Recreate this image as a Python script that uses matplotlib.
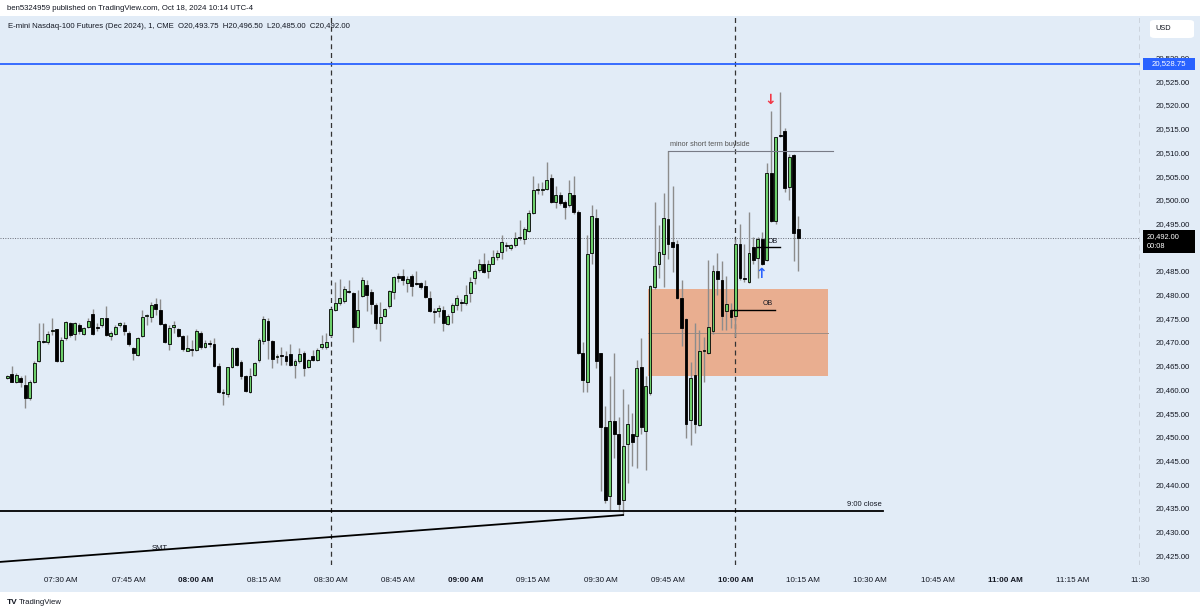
import matplotlib.pyplot as plt
from matplotlib.patches import Rectangle, FancyBboxPatch

plt.rcParams['font.family'] = ['Liberation Sans', 'DejaVu Sans']

# 1-minute bars from 07:18 to 10:14
opens = [20462.5, 20463.25, 20461.5, 20462.5, 20461.0, 20458.25, 20461.5, 20466.0, 20470.25, 20470.0,
         20472.25, 20472.75, 20466.0, 20470.75, 20474.0, 20471.75, 20473.5, 20471.75, 20473.25, 20476.0,
         20473.25, 20473.5, 20475.0, 20471.25, 20471.75, 20473.5, 20473.5, 20472.0, 20468.75, 20467.25,
         20471.25, 20475.5, 20475.25, 20478.0, 20476.75, 20473.75, 20469.5, 20473.25, 20472.75, 20471.25,
         20468.0, 20468.5, 20468.25, 20472.0, 20469.0, 20469.75, 20469.5, 20465.0, 20459.5, 20459.0,
         20464.75, 20468.75, 20465.75, 20462.75, 20459.5, 20463.0, 20466.25, 20470.25, 20474.5, 20470.25,
         20466.75, 20467.25, 20467.0, 20467.5, 20465.25, 20466.0, 20467.75, 20464.75, 20467.0, 20466.25,
         20469.0, 20469.0, 20471.5, 20476.75, 20478.25, 20478.75, 20480.75, 20480.25, 20473.25, 20479.75,
         20482.0, 20480.5, 20477.75, 20474.0, 20475.5, 20477.5, 20480.5, 20484.0, 20484.0, 20482.5,
         20484.0, 20482.5, 20482.5, 20481.75, 20479.25, 20476.5, 20476.5, 20476.75, 20473.75, 20476.25,
         20477.75, 20478.5, 20478.25, 20480.25, 20483.5, 20485.25, 20486.5, 20485.0, 20486.5, 20488.0,
         20489.0, 20490.5, 20489.75, 20490.5, 20492.25, 20491.75, 20493.5, 20497.25, 20502.0, 20502.0,
         20502.25, 20504.5, 20499.5, 20501.0, 20499.5, 20499.0, 20501.0, 20497.5, 20467.75, 20461.5,
         20488.75, 20496.25, 20467.75, 20452.0, 20437.5, 20453.25, 20450.5, 20436.75, 20448.5, 20450.5,
         20450.25, 20464.75, 20451.25, 20459.25, 20481.5, 20486.5, 20488.5, 20496.0, 20491.0, 20490.75,
         20479.25, 20474.75, 20453.5, 20463.0, 20452.5, 20468.0, 20467.75, 20472.25, 20485.0, 20483.0,
         20476.5, 20476.75, 20475.5, 20490.75, 20483.5, 20482.75, 20490.0, 20487.75, 20491.75, 20487.25,
         20505.75, 20495.5, 20513.75, 20514.5, 20502.75, 20509.5, 20493.75]
highs = [20463.0, 20465.0, 20463.5, 20462.75, 20463.0, 20462.0, 20466.0, 20474.0, 20474.0, 20472.25,
         20475.0, 20472.75, 20471.0, 20474.5, 20474.25, 20474.25, 20474.0, 20473.25, 20475.0, 20477.0,
         20474.0, 20475.0, 20477.5, 20472.25, 20473.5, 20474.25, 20474.25, 20472.25, 20469.0, 20471.0,
         20476.75, 20476.0, 20478.5, 20479.25, 20479.0, 20474.0, 20473.5, 20474.5, 20473.0, 20471.5,
         20471.5, 20470.5, 20472.75, 20472.25, 20470.5, 20470.5, 20470.75, 20465.5, 20460.0, 20464.75,
         20469.0, 20469.0, 20466.25, 20463.0, 20464.5, 20465.75, 20470.75, 20475.5, 20475.0, 20470.5,
         20467.5, 20469.0, 20468.0, 20469.5, 20466.5, 20468.75, 20468.0, 20466.5, 20468.25, 20468.75,
         20471.5, 20472.0, 20477.25, 20482.75, 20483.25, 20481.75, 20483.0, 20480.5, 20481.0, 20483.75,
         20483.0, 20481.25, 20478.25, 20478.5, 20477.25, 20481.0, 20484.0, 20484.5, 20485.5, 20484.0,
         20484.25, 20485.0, 20482.75, 20483.0, 20480.75, 20477.25, 20477.75, 20477.5, 20476.0, 20478.25,
         20480.0, 20479.0, 20482.0, 20483.75, 20485.5, 20487.5, 20488.75, 20487.25, 20489.5, 20489.5,
         20492.5, 20491.0, 20490.75, 20493.25, 20495.75, 20494.25, 20497.75, 20505.0, 20503.5, 20503.75,
         20508.0, 20505.5, 20503.0, 20501.75, 20500.0, 20504.25, 20505.0, 20497.75, 20470.0, 20492.5,
         20499.0, 20498.0, 20467.75, 20456.5, 20462.75, 20467.75, 20454.25, 20460.0, 20457.0, 20455.0,
         20466.25, 20470.75, 20462.75, 20482.0, 20499.5, 20494.75, 20501.5, 20510.25, 20503.0, 20491.5,
         20483.0, 20475.0, 20465.75, 20474.0, 20472.5, 20471.0, 20487.25, 20486.25, 20488.75, 20487.0,
         20484.0, 20478.25, 20491.75, 20495.0, 20490.75, 20497.5, 20492.25, 20492.25, 20493.25, 20507.75,
         20518.75, 20513.25, 20522.75, 20515.25, 20509.75, 20509.75, 20496.5]
lows = [20462.25, 20461.5, 20461.25, 20460.5, 20456.0, 20457.75, 20461.25, 20465.75, 20469.75, 20469.5,
        20471.5, 20465.75, 20465.75, 20470.5, 20471.0, 20470.5, 20471.75, 20471.5, 20473.0, 20471.5,
        20472.25, 20473.25, 20471.25, 20470.5, 20471.5, 20473.25, 20471.5, 20469.25, 20466.25, 20467.0,
        20471.0, 20473.5, 20474.25, 20475.75, 20473.5, 20469.75, 20468.25, 20472.0, 20471.0, 20468.0,
        20468.0, 20467.0, 20468.0, 20468.5, 20468.75, 20469.0, 20464.75, 20459.25, 20456.75, 20458.5,
        20464.5, 20465.0, 20462.25, 20459.5, 20459.25, 20462.75, 20465.75, 20469.5, 20466.5, 20464.5,
        20465.5, 20465.25, 20465.25, 20465.0, 20462.5, 20465.5, 20462.75, 20464.5, 20466.0, 20466.0,
        20468.5, 20468.5, 20471.0, 20476.5, 20477.75, 20478.25, 20480.25, 20470.0, 20473.0, 20479.5,
        20476.5, 20476.0, 20472.75, 20470.25, 20475.25, 20477.25, 20479.0, 20482.75, 20482.0, 20480.5,
        20479.75, 20482.0, 20481.25, 20479.25, 20476.25, 20474.0, 20475.25, 20472.25, 20473.5, 20474.0,
        20476.75, 20476.5, 20477.75, 20478.5, 20482.25, 20484.75, 20484.5, 20483.5, 20486.5, 20487.25,
        20487.5, 20489.25, 20489.5, 20490.0, 20491.5, 20490.75, 20493.25, 20497.0, 20501.25, 20501.0,
        20502.0, 20499.25, 20498.25, 20499.0, 20496.0, 20498.5, 20497.0, 20467.5, 20459.5, 20459.5,
        20486.5, 20464.5, 20438.5, 20436.0, 20434.5, 20445.5, 20434.25, 20433.5, 20440.25, 20443.75,
        20443.5, 20450.5, 20443.0, 20458.75, 20481.25, 20483.5, 20481.5, 20487.5, 20484.75, 20479.0,
        20469.25, 20449.75, 20448.25, 20450.75, 20452.25, 20461.5, 20467.5, 20471.75, 20480.0, 20472.5,
        20472.5, 20473.0, 20471.0, 20483.0, 20482.75, 20482.5, 20486.5, 20483.5, 20486.25, 20487.0,
        20495.25, 20495.0, 20513.25, 20501.75, 20500.0, 20487.0, 20485.0]
closes = [20462.75, 20461.5, 20463.0, 20461.5, 20458.25, 20461.5, 20465.5, 20470.25, 20470.0, 20471.75,
          20472.5, 20466.0, 20470.5, 20474.25, 20471.5, 20474.0, 20472.25, 20473.0, 20474.5, 20471.75,
          20473.0, 20475.0, 20471.5, 20472.0, 20473.25, 20474.0, 20472.25, 20469.5, 20467.75, 20470.75,
          20475.25, 20475.75, 20477.75, 20477.0, 20473.75, 20470.0, 20473.0, 20473.5, 20471.25, 20468.5,
          20468.75, 20468.25, 20472.25, 20469.0, 20469.75, 20469.5, 20465.0, 20459.5, 20459.25, 20464.75,
          20468.75, 20465.25, 20462.75, 20459.75, 20462.75, 20465.5, 20470.5, 20474.75, 20470.5, 20466.5,
          20467.0, 20467.0, 20466.0, 20465.25, 20466.0, 20467.5, 20464.5, 20466.25, 20466.25, 20468.25,
          20469.5, 20470.0, 20477.0, 20478.25, 20479.25, 20481.25, 20480.5, 20473.25, 20476.75, 20483.0,
          20480.0, 20478.0, 20474.0, 20475.25, 20477.0, 20480.75, 20483.75, 20483.5, 20483.0, 20483.25,
          20481.75, 20482.25, 20481.5, 20479.5, 20476.5, 20476.25, 20477.25, 20474.0, 20475.5, 20477.75,
          20479.25, 20478.25, 20480.0, 20482.75, 20485.0, 20486.5, 20484.75, 20486.5, 20488.0, 20488.75,
          20491.0, 20490.25, 20490.5, 20492.0, 20492.0, 20493.75, 20497.25, 20502.0, 20502.25, 20502.25,
          20504.25, 20499.5, 20501.0, 20499.25, 20498.5, 20501.5, 20497.5, 20467.75, 20462.0, 20488.5,
          20496.5, 20466.0, 20452.0, 20436.75, 20453.25, 20450.5, 20435.75, 20448.0, 20452.75, 20449.0,
          20464.5, 20452.0, 20460.75, 20481.75, 20486.0, 20489.0, 20496.25, 20490.75, 20490.0, 20479.25,
          20473.0, 20452.75, 20462.5, 20452.75, 20468.0, 20468.25, 20473.25, 20485.0, 20483.25, 20475.5,
          20478.0, 20475.25, 20490.75, 20483.5, 20483.25, 20488.75, 20487.25, 20491.75, 20486.5, 20505.75,
          20495.5, 20513.25, 20513.5, 20502.5, 20509.0, 20493.0, 20492.0]

time_labels = ["07:30 AM", "07:45 AM", "08:00 AM", "08:15 AM", "08:30 AM", "08:45 AM", "09:00 AM",
               "09:15 AM", "09:30 AM", "09:45 AM", "10:00 AM", "10:15 AM", "10:30 AM", "10:45 AM",
               "11:00 AM", "11:15 AM", "11:30"]
# 20,490 sits under the last-price tag, so it is not shown
price_ticks = [v for v in range(20425, 20535, 5) if v != 20490]

BG = '#e2ecf7'
GREEN = '#6ccf6a'
W, H = 1200, 614


def fx(px):
    return px / W


def fy(py):
    return 1 - py / H


fig = plt.figure(figsize=(12, 6.14), dpi=100)
fig.patch.set_facecolor('white')
fig.patches.append(Rectangle((0, fy(592)), 1, fy(16) - fy(592), transform=fig.transFigure,
                             facecolor=BG, edgecolor='none', zorder=-10))

ax = fig.add_axes([0, fy(565), fx(1140), fy(16) - fy(565)])
ax.set_zorder(1)
ax.set_facecolor(BG)
for s in ax.spines.values():
    s.set_visible(False)
ax.set_xlim(-1.62, 252.0)
ax.set_ylim(20422.95, 20538.78)

# candles
x = list(range(len(opens)))
ax.vlines(x, lows, highs, color='#8c8c8c', lw=1.0, zorder=3)
for i in x:
    o, c = opens[i], closes[i]
    col = GREEN if c >= o else 'black'
    ax.bar(i, max(abs(c - o), 0.2), bottom=min(o, c), width=0.64, color=col,
           edgecolor='black', linewidth=0.6, zorder=4)

# drawings
ax.add_patch(Rectangle((142.6, 20462.75), 182.5 - 142.6, 20481.25 - 20462.75,
                       facecolor='#e9ae90', edgecolor='none', zorder=2))
ax.plot([142.6, 182.5], [20472.0, 20472.0], color='#a08c82', lw=0.7, zorder=2)

ax.axhline(20528.75, color='#2962ff', lw=1.3, zorder=5)
ax.axhline(20492.0, color='#6a6d78', lw=0.7, ls=(0, (1, 1.5)), zorder=2)
for v in [72, 162, 252]:
    ax.axvline(v, color='#333333', lw=0.9, ls=(0, (4, 3)), zorder=2)

ax.plot([-1.62, 194.9], [20434.25, 20434.25], color='black', lw=1.3, zorder=5)
ax.text(194.5, 20435.0, "9:00 close", ha='right', va='bottom', fontsize=5.5, color='#131722')

ax.plot([-1.62, 137], [20423.6, 20433.5], color='black', lw=1.3, zorder=5)
ax.text(34, 20425.6, "SMT", ha='center', va='bottom', fontsize=5.5, color='#131722')

ax.plot([147, 183.6], [20510.25, 20510.25], color='#787b86', lw=0.8, zorder=5)
ax.text(147.4, 20511.0, "minor short term buyside", ha='left', va='bottom', fontsize=5.2, color='#555555')

ax.plot([166.9, 172.0], [20490.0, 20490.0], color='black', lw=1.0, zorder=5)
ax.text(170.2, 20490.5, "OB", ha='center', va='bottom', fontsize=5, color='#131722')
ax.plot([161.1, 170.9], [20476.75, 20476.75], color='black', lw=1.0, zorder=5)
ax.text(169.1, 20477.4, "OB", ha='center', va='bottom', fontsize=5, color='#131722')

ax.text(169.8, 20521.0, "↓", ha='center', va='center', fontsize=10, fontweight='bold',
        family='DejaVu Sans', color='#f23645')
ax.text(167.8, 20484.4, "↑", ha='center', va='center', fontsize=10, fontweight='bold',
        family='DejaVu Sans', color='#2962ff')

# axes labels
ax.yaxis.tick_right()
ax.set_yticks(price_ticks)
ax.set_yticklabels([f"{v:,.2f}" for v in price_ticks])
ax.tick_params(axis='y', length=0, pad=11, labelsize=5.6, colors='#131722')
ax.set_xticks([12 + 15 * k for k in range(len(time_labels))])
ax.set_xticklabels(time_labels)
ax.tick_params(axis='x', length=0, pad=9, labelsize=5.8, colors='#131722')
for t in ax.get_xticklabels():
    if t.get_text() in ("08:00 AM", "09:00 AM", "10:00 AM", "11:00 AM"):
        t.set_fontweight('bold')

# price labels on the scale
fig.patches.append(Rectangle((fx(1143), fy(69.5)), fx(52), fy(57.5) - fy(69.5), transform=fig.transFigure,
                             facecolor='#2962ff', edgecolor='none', zorder=5))
fig.text(fx(1169), fy(63.5), "20,528.75", ha='center', va='center', fontsize=5.6, color='white', zorder=6)
fig.patches.append(Rectangle((fx(1143), fy(253)), fx(52), fy(230) - fy(253), transform=fig.transFigure,
                             facecolor='black', edgecolor='none', zorder=5))
fig.text(fx(1147), fy(241.5), "20,492.00\n00:08", ha='left', va='center', fontsize=5.3,
         linespacing=1.45, color='white', zorder=6)
fig.patches.append(FancyBboxPatch((fx(1150), fy(38)), fx(44), fy(20) - fy(38), transform=fig.transFigure,
                                  boxstyle='round,pad=0,rounding_size=0.004', facecolor='white',
                                  edgecolor='none', zorder=5))
fig.text(fx(1155), fy(29), "USD", ha='left', va='center', fontsize=5.3, color='#131722', zorder=6)

# headers
fig.text(fx(7), fy(9), "ben5324959 published on TradingView.com, Oct 18, 2024 10:14 UTC-4",
         ha='left', va='center', fontsize=5.6, color='#131722')
fig.text(fx(8), fy(27), "E-mini Nasdaq-100 Futures (Dec 2024), 1, CME  O20,493.75  H20,496.50  L20,485.00  C20,492.00",
         ha='left', va='center', fontsize=5.6, color='#131722')
fig.text(fx(7), fy(603), "TV", ha='left', va='center', fontsize=6, fontweight='bold', color='#131722')
fig.text(fx(19), fy(603), "TradingView", ha='left', va='center', fontsize=5.6, color='#131722')

plt.savefig('out.png', dpi=100, facecolor=fig.get_facecolor())
